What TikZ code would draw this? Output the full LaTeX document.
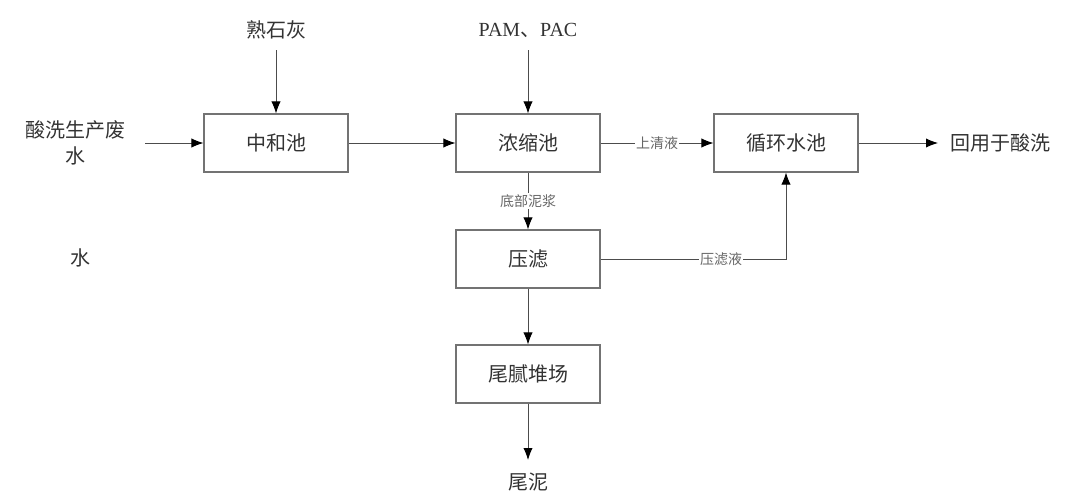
\documentclass[tikz,border=0pt]{standalone}
\usepackage{fontspec}
\setmainfont{Liberation Serif}
\newfontfamily\cjk{Noto Sans CJK SC}
\usetikzlibrary{arrows.meta}
\begin{document}
\begin{tikzpicture}[x=0.75pt,y=-0.75pt,
  proc/.style={draw=black!55, line width=0.8pt, minimum width=108pt, minimum height=43.5pt, inner sep=0pt, font=\cjk\fontsize{15}{17}\selectfont, text=black!80},
  lbl/.style={font=\cjk\fontsize{15}{19}\selectfont, text=black!80, align=center, inner sep=1pt},
  small/.style={font=\cjk\fontsize{10.5}{12}\selectfont, text=black!60, fill=white, inner sep=1pt},
  flow/.style={draw=black!70, line width=0.7pt, -{Latex[length=9pt,width=7pt,color=black]}},
  plain/.style={draw=black!60, line width=0.7pt}]
\useasboundingbox (0,0) rectangle (1067,497);
\node[proc] (zh) at (276,143) {中和池};
\node[proc] (ns) at (528,143) {浓缩池};
\node[proc] (xh) at (786,143) {循环水池};
\node[proc] (yl) at (528,259) {压滤};
\node[proc] (wn) at (528,374) {尾腻堆场};
\node[lbl] (sh) at (276,30) {熟石灰};
\node[lbl, font=\fontsize{15}{19}\selectfont] (pam) at (528,30) {PAM{\cjk 、}PAC};
\node[lbl] (fs) at (75,143) {酸洗生产废\\水};
\node[lbl] (hy) at (1000,143) {回用于酸洗};
\node[lbl] (wnn) at (528,482) {尾泥};
\node[lbl] (w) at (80,258) {水};
\coordinate (shb) at (276,50);
\coordinate (pamb) at (528,50);
\coordinate (fse) at (145,143);
\coordinate (hyw) at (938,143);
\coordinate (wnt) at (528,460);
\coordinate (corner) at (786,259);
\draw[flow] (shb) -- (zh.north);
\draw[flow] (pamb) -- (ns.north);
\draw[flow] (fse) -- (zh.west);
\draw[flow] (zh.east) -- (ns.west);
\draw[flow] (ns.east) -- node[small]{上清液} (xh.west);
\draw[flow] (xh.east) -- (hyw);
\draw[flow] (ns.south) -- node[small]{底部泥浆} (yl.north);
\draw[flow] (yl.east) -- node[small, pos=0.65]{压滤液} (corner) -- (xh.south);
\draw[flow] (yl.south) -- (wn.north);
\draw[flow] (wn.south) -- (wnt);
\end{tikzpicture}
\end{document}
